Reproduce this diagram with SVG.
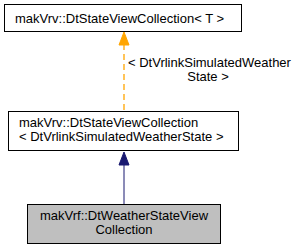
<svg xmlns="http://www.w3.org/2000/svg" width="300" height="251" viewBox="0 0 300 251">
<style>
text{font-family:"Liberation Sans",Arial,sans-serif;font-size:13px;fill:#000}
.box{fill:#fff;stroke:#000;stroke-width:1}
.cur{fill:#bfbfbf;stroke:#000;stroke-width:1}
</style>
<rect width="300" height="251" fill="#fff"/>
<g id="connectors">
<path d="M124,110 L124,44" stroke="#ffa500" stroke-width="1.3" stroke-dasharray="6,4" fill="none"/>
<polygon points="124,32 119,45 129,45" fill="#ffa500" stroke="#ffa500"/>
<text x="128" y="67">&lt; DtVrlinkSimulatedWeather</text>
<text x="208" y="81" text-anchor="middle">State &gt;</text>
<path d="M124,204 L124,164" stroke="#191970" stroke-width="1" fill="none"/>
<polygon points="124,152 119,165 129,165" fill="#191970" stroke="#191970"/>
</g>
<g id="node-top">
<rect class="box" x="4.5" y="4.5" width="237" height="27"/>
<text x="15" y="23">makVrv::DtStateViewCollection&lt; T &gt;</text>
</g>
<g id="node-middle">
<rect class="box" x="8.5" y="111.5" width="230" height="39"/>
<text x="19" y="127">makVrv::DtStateViewCollection</text>
<text x="19" y="141">&lt; DtVrlinkSimulatedWeatherState &gt;</text>
</g>
<g id="node-bottom">
<rect class="cur" x="27.5" y="204.5" width="193" height="39"/>
<text x="124" y="220" text-anchor="middle">makVrf::DtWeatherStateView</text>
<text x="124" y="234" text-anchor="middle">Collection</text>
</g>
</svg>
